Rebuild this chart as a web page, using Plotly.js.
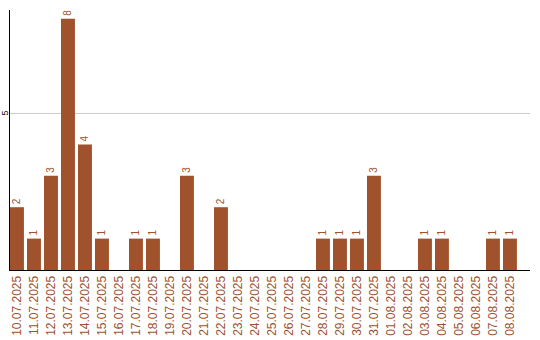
<!DOCTYPE html>
<html>
<head>
<meta charset="utf-8">
<script src="https://cdn.plot.ly/plotly-3.0.1.min.js"></script>
<style>
  html, body { margin: 0; padding: 0; background: #fff; }
  #chart { width: 540px; height: 340px; }
</style>
</head>
<body>
<div id="chart"></div>
<script>
// Daily counts, 10.07.2025 – 08.08.2025
const days = [
  '10.07.2025', '11.07.2025', '12.07.2025', '13.07.2025', '14.07.2025',
  '15.07.2025', '16.07.2025', '17.07.2025', '18.07.2025', '19.07.2025',
  '20.07.2025', '21.07.2025', '22.07.2025', '23.07.2025', '24.07.2025',
  '25.07.2025', '26.07.2025', '27.07.2025', '28.07.2025', '29.07.2025',
  '30.07.2025', '31.07.2025', '01.08.2025', '02.08.2025', '03.08.2025',
  '04.08.2025', '05.08.2025', '06.08.2025', '07.08.2025', '08.08.2025'
];
const counts = [
  2, 1, 3, 8, 4,
  1, 0, 1, 1, 0,
  3, 0, 2, 0, 0,
  0, 0, 0, 1, 1,
  1, 3, 0, 0, 1,
  1, 0, 0, 1, 1
];
const yTickVals = [5];
const yTickText = ['5'];

const barColor = '#a0522d';

// Only non-zero days carry a value label
const labels = counts.map(v => (v > 0 ? String(v) : ''));

const trace = {
  type: 'bar',
  x: days.map((_, i) => i),
  y: counts,
  marker: { color: barColor, line: { width: 0 } },
  text: labels,
  textposition: 'outside',
  textangle: -90,
  constraintext: 'none',
  cliponaxis: false,
  textfont: { family: 'Liberation Sans, Arial, sans-serif', size: 10, color: barColor },
  hoverinfo: 'none'
};

// y tick label drawn as a rotated note left of the axis line
const yTickNotes = yTickVals.map((v, k) => ({
  xref: 'paper', yref: 'y',
  x: 0, y: v,
  xanchor: 'center', yanchor: 'middle',
  xshift: -5.5,
  text: yTickText[k],
  textangle: -90,
  showarrow: false,
  borderpad: 0,
  font: { family: 'Liberation Sans, Arial, sans-serif', size: 9, color: '#000' }
}));

const layout = {
  width: 540,
  height: 340,
  margin: { l: 10, r: 10, t: 10, b: 70 },
  paper_bgcolor: '#fff',
  plot_bgcolor: '#fff',
  showlegend: false,
  bargap: 0.18,
  annotations: yTickNotes,
  xaxis: {
    type: 'linear',
    range: [-0.41, 30.18],
    tickmode: 'array',
    tickvals: days.map((_, i) => i),
    ticktext: days,
    tickangle: -90,
    ticks: '',
    showgrid: false,
    zeroline: false,
    showline: true,
    linecolor: '#000',
    linewidth: 1,
    tickfont: { family: 'Liberation Sans, Arial, sans-serif', size: 12, color: barColor }
  },
  yaxis: {
    range: [0, 8.28],
    tickmode: 'array',
    tickvals: yTickVals,
    showticklabels: false,
    ticks: '',
    showgrid: true,
    gridcolor: '#cccccc',
    gridwidth: 1,
    zeroline: false,
    showline: true,
    linecolor: '#000',
    linewidth: 1
  }
};

Plotly.newPlot('chart', [trace], layout, { displayModeBar: false, staticPlot: true });
</script>
</body>
</html>
